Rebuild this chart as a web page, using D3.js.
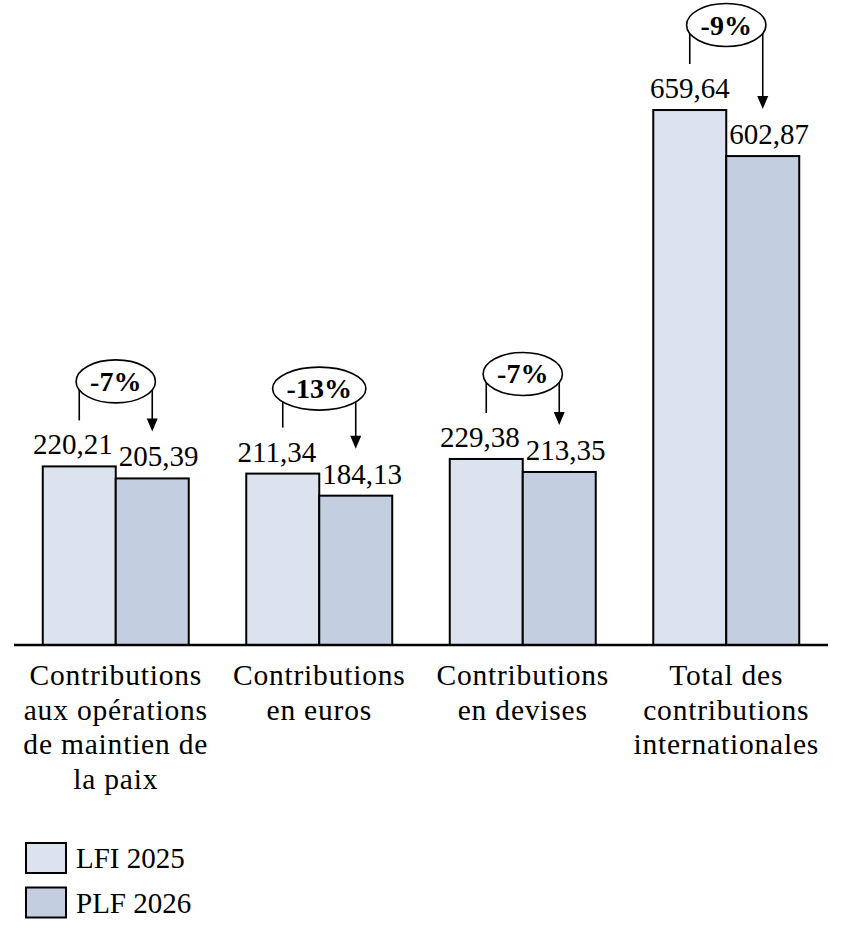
<!DOCTYPE html>
<html>
<head>
<meta charset="utf-8">
<script src="https://cdn.jsdelivr.net/npm/d3@7"></script>
<style>
  html, body { margin: 0; padding: 0; background: #fff; }
  svg { display: block; }
  text { font-family: "Liberation Serif", "Times New Roman", serif; fill: #000; }
</style>
</head>
<body>
<svg id="chart" width="843" height="938"></svg>
<script>
// ---- data ----
const categories = [
  "Contributions\naux opérations\nde maintien de\nla paix",
  "Contributions\nen euros",
  "Contributions\nen devises",
  "Total des\ncontributions\ninternationales"
];
const seriesNames = ["LFI 2025", "PLF 2026"];
const lfi2025 = [220.21, 211.34, 229.38, 659.64];
const plf2026 = [205.39, 184.13, 213.35, 602.87];
const seriesColors = ["#dce3ee", "#c4cee1"];

// ---- layout ----
const W = 843, H = 938;
const baseY = 645;
const svg = d3.select("#chart");

const x0 = d3.scaleBand().domain(d3.range(categories.length)).range([14, 828]).paddingInner(0).paddingOuter(0);
const x1 = d3.scaleBand().domain(seriesNames).range([0, x0.bandwidth()]).paddingInner(0).paddingOuter(0.394);
const y = d3.scaleLinear().domain([0, 700]).range([baseY, baseY - 700 * 0.811]);

const fmt = v => d3.format(".2f")(v).replace(".", ",");
const values = [lfi2025, plf2026];

const rows = categories.map((c, i) => ({ i, cat: c, vals: seriesNames.map((s, k) => ({ s, k, v: values[k][i] })) }));

const g = svg.append("g");

// bars
const groups = g.selectAll("g.grp").data(rows).join("g")
  .attr("class", "grp")
  .attr("transform", d => `translate(${x0(d.i)},0)`);

groups.selectAll("rect").data(d => d.vals).join("rect")
  .attr("x", d => x1(d.s))
  .attr("y", d => y(d.v))
  .attr("width", x1.bandwidth())
  .attr("height", d => y(0) - y(d.v))
  .attr("fill", d => seriesColors[d.k])
  .attr("stroke", "#000")
  .attr("stroke-width", 2);

// value labels
groups.selectAll("text.val").data(d => d.vals.map(v => Object.assign({ last: d.i === categories.length - 1 }, v))).join("text")
  .attr("class", "val")
  .attr("font-size", 29)
  .attr("x", d => {
    if (d.k === 0) return d.last ? x1(d.s) + x1.bandwidth() / 2 : x1(d.s) + x1.bandwidth() - 3;
    return x1(d.s) + 3;
  })
  .attr("text-anchor", d => d.k === 0 ? (d.last ? "middle" : "end") : "start")
  .attr("y", d => y(d.v) - 12)
  .text(d => fmt(d.v));

// axis baseline
g.append("line")
  .attr("x1", x0.range()[0]).attr("x2", x0.range()[1])
  .attr("y1", baseY).attr("y2", baseY)
  .attr("stroke", "#000").attr("stroke-width", 2.5);

// category labels
const lineH = 34.5;
g.selectAll("text.cat").data(rows).join("text")
  .attr("class", "cat")
  .attr("font-size", 29.5)
  .attr("letter-spacing", 0.8)
  .attr("text-anchor", "middle")
  .attr("transform", d => `translate(${x0(d.i) + x0.bandwidth() / 2},${baseY + 40})`)
  .each(function(d) {
    const t = d3.select(this);
    d.cat.split("\n").forEach((ln, j) => {
      t.append("tspan").attr("x", 0).attr("y", j * lineH).text(ln);
    });
  });

// change annotations
const ry = 21.5;
rows.forEach(d => {
  const a = d.vals[0].v, b = d.vals[1].v;
  const pct = Math.round((b - a) / a * 100);
  const cx = x0(d.i) + x0.bandwidth() / 2;
  const xl = x0(d.i) + x1(seriesNames[0]) + x1.bandwidth() / 2;
  const xr = x0(d.i) + x1(seriesNames[1]) + x1.bandwidth() / 2;
  const cy = y(Math.max(a, b)) - 85;
  const ann = g.append("g");
  const label = ann.append("text")
    .attr("font-size", 28).attr("font-weight", "bold")
    .attr("text-anchor", "middle")
    .attr("x", cx).attr("y", cy + 9.5)
    .text((pct > 0 ? "+" : "") + pct + "%");
  const tw = label.node().getComputedTextLength();
  const rx = Math.max((xr - xl) / 2, tw / 2 + 14);
  const edgeY = xx => cy + ry * Math.sqrt(Math.max(0, 1 - Math.pow((xx - cx) / rx, 2)));
  // left line
  ann.insert("line", "text")
    .attr("x1", xl).attr("x2", xl)
    .attr("y1", edgeY(xl) - 2).attr("y2", y(a) - 46)
    .attr("stroke", "#000").attr("stroke-width", 1.6);
  // right line + arrow
  const tipY = y(b) - 47;
  ann.insert("line", "text")
    .attr("x1", xr).attr("x2", xr)
    .attr("y1", edgeY(xr) - 2).attr("y2", tipY - 10)
    .attr("stroke", "#000").attr("stroke-width", 1.6);
  ann.insert("path", "text")
    .attr("d", `M${xr - 5.5},${tipY - 13} L${xr + 5.5},${tipY - 13} L${xr},${tipY} Z`)
    .attr("fill", "#000");
  ann.insert("ellipse", "text")
    .attr("cx", cx).attr("cy", cy).attr("rx", rx).attr("ry", ry)
    .attr("fill", "#fff").attr("stroke", "#000").attr("stroke-width", 1.6);
});

// legend
const leg = svg.append("g").attr("transform", "translate(26,843)");
const li = leg.selectAll("g").data(seriesNames).join("g")
  .attr("transform", (d, k) => `translate(0,${k * 44.5})`);
li.append("rect")
  .attr("x", 0).attr("y", 0).attr("width", 40).attr("height", 30)
  .attr("fill", (d, k) => seriesColors[k])
  .attr("stroke", "#000").attr("stroke-width", 2);
li.append("text")
  .attr("x", 50).attr("y", 25)
  .attr("font-size", 29)
  .text(d => d);
</script>
</body>
</html>
